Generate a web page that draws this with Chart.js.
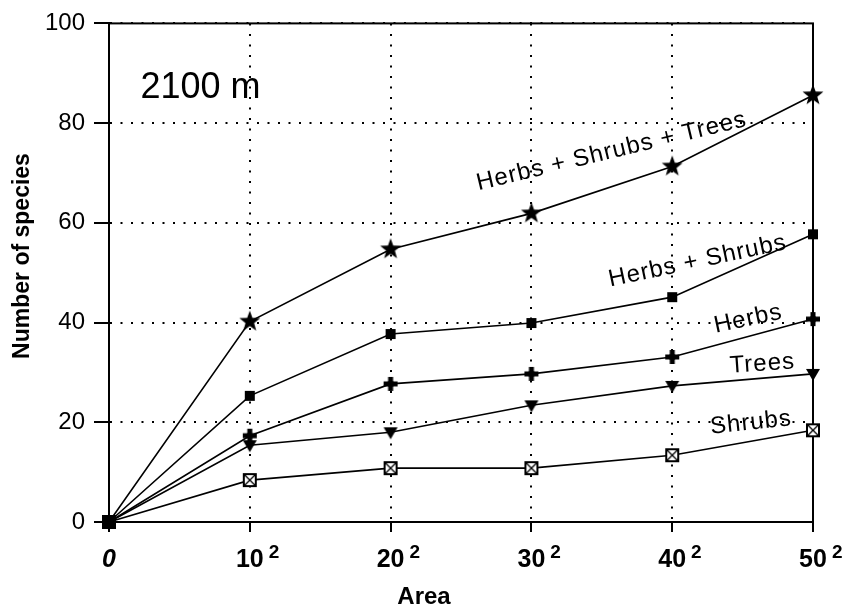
<!DOCTYPE html>
<html>
<head>
<meta charset="utf-8">
<title>Species-area curves, 2100 m</title>
<script src="https://cdn.jsdelivr.net/npm/chart.js@4"></script>
<style>
  html, body { margin: 0; padding: 0; background: #fff; }
</style>
</head>
<body>
<canvas id="speciesChart" width="846" height="611"></canvas>
<script>
// =========================================
// Data
// =========================================

const areaSides = [0, 10, 20, 30, 40, 50];

const herbsShrubsTrees = [0, 40.2, 54.7, 61.9, 71.3, 85.6];
const herbsShrubs      = [0, 25.3, 37.7, 39.9, 45.1, 57.7];
const herbs            = [0, 17.3, 27.7, 29.7, 33.1, 40.7];
const trees            = [0, 15.4, 18.0, 23.4, 27.3, 29.7];
const shrubs           = [0, 8.4, 10.8, 10.8, 13.4, 18.4];

const seriesNames = [
    "Herbs + Shrubs + Trees",
    "Herbs + Shrubs",
    "Herbs",
    "Trees",
    "Shrubs"
];

const xTickLabels = ["0", "10", "20", "30", "40", "50"];
const yTickValues = [0, 20, 40, 60, 80, 100];

const siteLabel = "2100 m";
const xTitle = "Area";
const yTitle = "Number of species";

const FONT = "'Liberation Sans', Arial, sans-serif";


// =========================================
// Marker images
// =========================================

function marker(size, draw) {
    const c = document.createElement("canvas");
    c.width = size;
    c.height = size;
    const g = c.getContext("2d");
    g.translate(size / 2, size / 2);
    g.fillStyle = "#000";
    g.strokeStyle = "#000";
    draw(g);
    return c;
}

const starMark = marker(24, g => {
    g.beginPath();
    for (let i = 0; i < 10; i++) {
        const r = i % 2 ? 4.5 : 11;
        const a = -Math.PI / 2 + i * Math.PI / 5;
        g.lineTo(r * Math.cos(a), r * Math.sin(a));
    }
    g.closePath();
    g.fill();
});

const squareMark = marker(12, g => {
    g.fillRect(-5, -5, 10, 10);
});

// the shared origin point shows as one solid block
const originMark = marker(18, g => {
    g.fillRect(-7, -7, 14, 14);
});

const plusMark = marker(18, g => {
    g.fillRect(-7, -2.5, 14, 5);
    g.fillRect(-2.5, -7, 5, 14);
    g.beginPath();
    g.moveTo(0, -5); g.lineTo(5, 0); g.lineTo(0, 5); g.lineTo(-5, 0);
    g.fill();
});

const triangleMark = marker(16, g => {
    g.beginPath();
    g.moveTo(-7, -5);
    g.lineTo(7, -5);
    g.lineTo(0, 7);
    g.closePath();
    g.fill();
});

const boxXMark = marker(16, g => {
    g.fillStyle = "#fff";
    g.fillRect(-6, -6, 12, 12);
    g.lineWidth = 2;
    g.strokeRect(-6, -6, 12, 12);
    g.lineWidth = 1.3;
    g.beginPath();
    g.moveTo(-5, -5); g.lineTo(5, 5);
    g.moveTo(5, -5); g.lineTo(-5, 5);
    g.stroke();
});


// =========================================
// Text placed on the plot
// =========================================

// x, y in data units; angle in degrees
const lineLabels = [
    { text: seriesNames[0], x: 35.7, y: 74.3, angle: -13.5 },
    { text: seriesNames[1], x: 41.8, y: 52.3, angle: -12 },
    { text: seriesNames[2], x: 45.4, y: 40.7, angle: -12 },
    { text: seriesNames[3], x: 46.4, y: 31.7, angle: -4 },
    { text: seriesNames[4], x: 45.6, y: 19.9, angle: -6 }
];

const figureText = {

    id: "figureText",

    beforeDatasetsDraw(chart) {
        const { ctx, chartArea: a } = chart;
        ctx.save();
        ctx.strokeStyle = "#000";
        ctx.lineWidth = 2;
        ctx.strokeRect(a.left, a.top, a.right - a.left, a.bottom - a.top);
        ctx.restore();
    },

    afterDraw(chart) {
        const { ctx, chartArea: a, scales: { x, y } } = chart;
        ctx.save();
        ctx.fillStyle = "#000";

        // x tick labels, drawn as 10², 20², ...
        xTickLabels.forEach((t, i) => {
            const px = x.getPixelForValue(areaSides[i]);
            ctx.textAlign = "center";
            ctx.textBaseline = "alphabetic";
            if (i === 0) {
                ctx.font = "italic bold 25px " + FONT;
                ctx.fillText(t, px, a.bottom + 45);
                return;
            }
            ctx.font = "bold 25px " + FONT;
            ctx.fillText(t, px, a.bottom + 45);
            const w = ctx.measureText(t).width;
            ctx.font = "bold 19px " + FONT;
            ctx.textAlign = "left";
            ctx.fillText("2", px + w / 2 + 5, a.bottom + 36);
        });

        // axis titles
        ctx.textAlign = "center";
        ctx.textBaseline = "middle";
        ctx.font = "bold 24px " + FONT;
        ctx.fillText(xTitle, 424, 597);

        ctx.save();
        ctx.translate(23, 256);
        ctx.rotate(-Math.PI / 2);
        ctx.font = "bold 23px " + FONT;
        ctx.fillText(yTitle, 0, 0);
        ctx.restore();

        // site label
        ctx.font = "36px " + FONT;
        ctx.fillText(siteLabel, x.getPixelForValue(6.5), y.getPixelForValue(87));

        // curve labels
        ctx.font = "24px " + FONT;
        ctx.letterSpacing = "1px";
        lineLabels.forEach(l => {
            ctx.save();
            ctx.translate(x.getPixelForValue(l.x), y.getPixelForValue(l.y));
            ctx.rotate(l.angle * Math.PI / 180);
            ctx.fillText(l.text, 0, 0);
            ctx.restore();
        });

        ctx.restore();
    }
};


// =========================================
// Chart
// =========================================

function series(label, values, mark) {
    return {
        label: label,
        data: values.map((v, i) => ({ x: areaSides[i], y: v })),
        borderColor: "#000",
        borderWidth: 1.6,
        pointStyle: ctx => (ctx.dataIndex === 0 ? originMark : mark),
        pointRadius: 6,
        pointHoverRadius: 6,
        fill: false,
        tension: 0,
        clip: false
    };
}

const canvas = document.getElementById("speciesChart");

new Chart(canvas, {

    type: "line",

    data: {
        datasets: [
            series(seriesNames[4], shrubs, boxXMark),
            series(seriesNames[3], trees, triangleMark),
            series(seriesNames[2], herbs, plusMark),
            series(seriesNames[1], herbsShrubs, squareMark),
            series(seriesNames[0], herbsShrubsTrees, starMark)
        ]
    },

    options: {

        responsive: false,
        animation: false,
        events: [],

        layout: {
            padding: { top: 21, right: 33, left: 0, bottom: 0 }
        },

        plugins: {
            legend: { display: false },
            tooltip: { enabled: false }
        },

        scales: {

            x: {
                type: "linear",
                min: 0,
                max: 50,
                afterBuildTicks: s => {
                    s.ticks = areaSides.map(v => ({ value: v }));
                },
                afterFit: s => { s.height = 89; },
                ticks: { display: false },
                grid: {
                    color: "#000",
                    lineWidth: 2,
                    tickLength: 10,
                    tickBorderDash: []
                },
                border: {
                    color: "#000",
                    width: 2,
                    dash: [2, 8.5]
                }
            },

            y: {
                min: 0,
                max: 100,
                afterBuildTicks: s => {
                    s.ticks = yTickValues.map(v => ({ value: v }));
                },
                afterFit: s => { s.width = 109; },
                ticks: {
                    color: "#000",
                    padding: 9,
                    font: { family: FONT, size: 24 }
                },
                grid: {
                    color: "#000",
                    lineWidth: 2,
                    tickLength: 15,
                    tickBorderDash: []
                },
                border: {
                    color: "#000",
                    width: 2,
                    dash: [2, 8.5]
                }
            }
        }
    },

    plugins: [figureText]
});
</script>
</body>
</html>
